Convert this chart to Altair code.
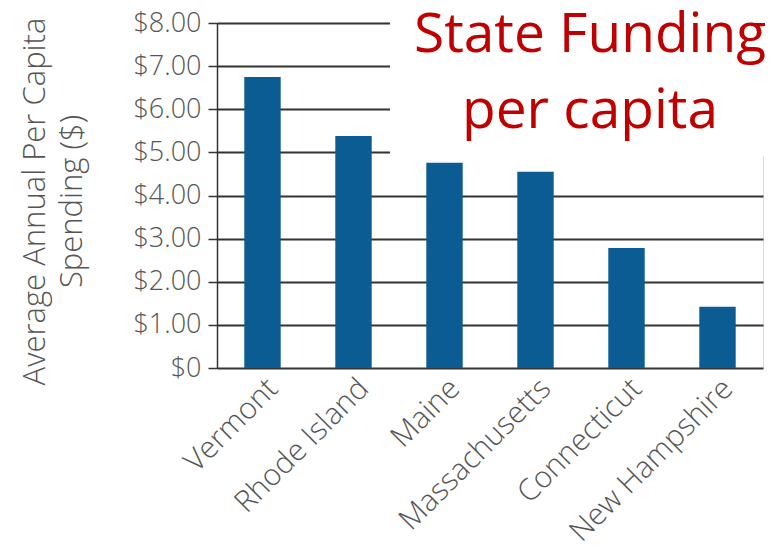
import altair as alt
import pandas as pd

states = ["Vermont", "Rhode Island", "Maine", "Massachusetts", "Connecticut", "New Hampshire"]
spending = [6.75, 5.38, 4.76, 4.55, 2.78, 1.42]
title_lines = ["State Funding", "per capita"]
y_title = ["Average Annual Per Capita", "Spending ($)"]

df = pd.DataFrame({"state": states, "spending": spending})

FONT = "Open Sans"
GREY = "#555555"

bars = alt.Chart(df).mark_bar(color="#0a5c92").encode(
    x=alt.X("state:N", sort=states,
            scale=alt.Scale(paddingInner=0.6, paddingOuter=0.3),
            axis=alt.Axis(title=None, labelAngle=-45, labelFontSize=30, labelFont=FONT,
                          labelFontWeight=300, labelLimit=0,
                          labelColor=GREY, ticks=False, domain=False, labelPadding=5,
                          labelOffset=0)),
    y=alt.Y("spending:Q", scale=alt.Scale(domain=[0, 8]),
            axis=alt.Axis(values=[0, 1, 2, 3, 4, 5, 6, 7, 8],
                          labelExpr="datum.value == 0 ? '$0' : '$' + format(datum.value, '.2f')",
                          labelFontSize=27, labelFont=FONT, labelColor=GREY,
                          labelFontWeight=300,
                          tickSize=9, tickColor="#333333", tickWidth=1.5,
                          labelPadding=7, domainColor="#333333", domainWidth=1.5,
                          gridColor="#333333", gridWidth=1.8, gridOpacity=1,
                          title=y_title, titleFont=FONT, titleFontSize=31,
                          titleFontWeight=300, titleColor=GREY,
                          titleLineHeight=37, titleAngle=-90, titleBaseline="top",
                          titleAlign="center", titleX=-197, titleY=178)),
)

box = alt.Chart(df).mark_rect(color="white").encode(
    x=alt.value(173), x2=alt.value(570), y=alt.value(-20), y2=alt.value(133)
)

title = alt.Chart(pd.DataFrame({"t": ["\n".join(title_lines)]})).mark_text(
    font=FONT, fontSize=55, color="#c00000", align="center", baseline="alphabetic",
    lineBreak="\n", lineHeight=76
).encode(x=alt.value(373), y=alt.value(29), text="t:N")

chart = alt.layer(bars, box, title).properties(
    width=546, height=345,
    autosize=alt.AutoSizeParams(type="none"),
    padding={"left": 209, "top": 15, "right": 10, "bottom": 182},
).configure_view(stroke=None).configure(background="white")

chart.save("out.html", embed_options={"renderer": "svg", "actions": False})
